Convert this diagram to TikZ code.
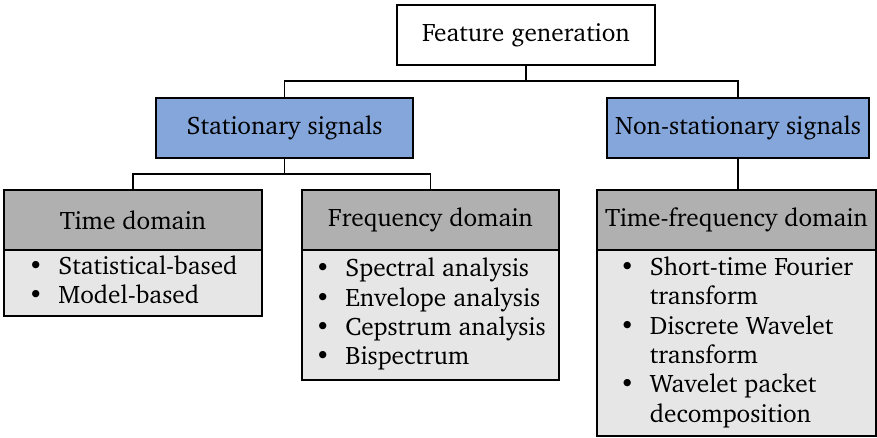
\documentclass[tikz,border=0pt]{standalone}
\usepackage[T1]{fontenc}
\usepackage{charter}
\usepackage{tikz}
\usetikzlibrary{positioning}
\usetikzlibrary{calc}

\definecolor{sigblue}{RGB}{132,166,218}
\definecolor{headgray}{RGB}{176,176,176}
\definecolor{listgray}{RGB}{230,230,230}

\newcommand{\bulletlist}[1]{\begin{tabular}{@{}l@{\hspace{15pt}}l@{}}#1\end{tabular}}

\begin{document}
\begin{tikzpicture} [
    x=1pt, y=-1pt,                 % pixel-like coordinates, top-down
    node distance=0pt,
    font=\fontsize{25.3}{29.3}\selectfont,
    ]
% -------------------------------------------------
\tikzset{
  base/.style={draw, line width=1.6pt, rectangle, align=center, inner sep=0pt, outer sep=0pt},
  top/.style={base, fill=white, minimum width=258pt, minimum height=60pt},
  sig/.style={base, fill=sigblue, minimum height=60pt},
  head/.style={base, fill=headgray, minimum height=60pt},
  list/.style={base, fill=listgray, anchor=north},
  line/.style={draw, line width=1.2pt},
}
    \useasboundingbox (0,0) rectangle (877,438);

    \node [top] (fg) at (526,35) {Feature generation};

    \node [sig, minimum width=257pt] (stat) at (284.5,128) {Stationary signals};
    \node [sig, minimum width=262pt] (nstat) at (738,128) {Non-stationary signals};

    \node [head, minimum width=258pt] (timeh) at (133,220) {Time domain};
    \node [list, minimum width=258pt, minimum height=66pt, below=of timeh.south] (timel)
      {\bulletlist{\textbullet & Statistical-based\\ \textbullet & Model-based}};

    \node [head, minimum width=257pt] (freqh) at (430.5,220) {Frequency domain};
    \node [list, minimum width=257pt, minimum height=130pt, below=of freqh.south] (freql)
      {\bulletlist{\textbullet & Spectral analysis\\ \textbullet & Envelope analysis\\
                   \textbullet & Cepstrum analysis\\ \textbullet & Bispectrum}};

    \node [head, minimum width=279pt] (tfh) at (736.5,220) {Time-frequency domain};
    \node [list, minimum width=279pt, minimum height=186pt, below=of tfh.south] (tfl)
      {\bulletlist{\textbullet & Short-time Fourier\\ & transform\\
                   \textbullet & Discrete Wavelet\\ & transform\\
                   \textbullet & Wavelet packet\\ & decomposition}};

    \coordinate (fgj) at ($(fg.south)+(0,16)$);
    \coordinate (statj) at ($(stat.south)+(0,16)$);

    \path [line] (fg.south) -- (fgj);
    \path [line] (fgj) -| (stat.north);
    \path [line] (fgj) -| (nstat.north);
    \path [line] (stat.south) -- (statj);
    \path [line] (statj) -| (timeh.north);
    \path [line] (statj) -| (freqh.north);
    \path [line] (nstat.south) -- (nstat.south |- tfh.north);

\end{tikzpicture}
\end{document}
